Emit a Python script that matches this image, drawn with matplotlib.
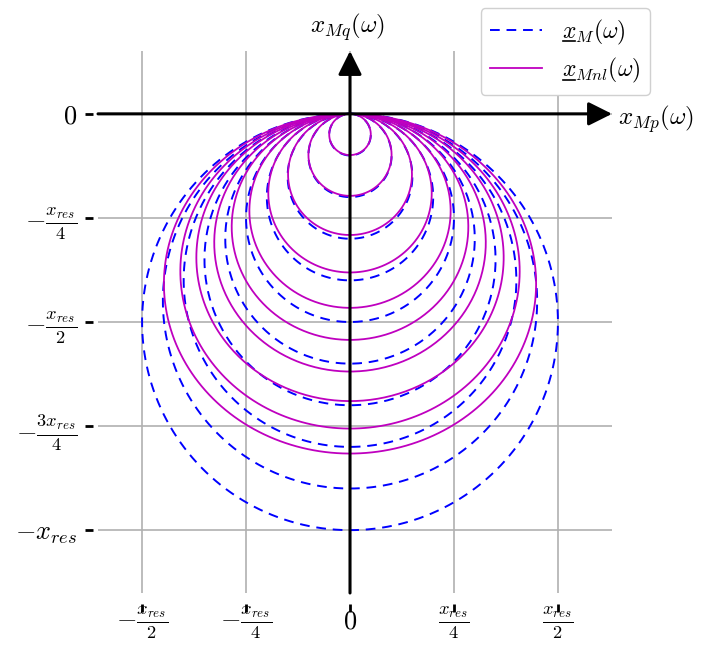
import numpy as np
import matplotlib
matplotlib.use("Agg")
import matplotlib.pyplot as plt
from matplotlib.lines import Line2D

plt.rcParams['mathtext.fontset'] = 'cm'
plt.rcParams['font.family'] = ['DejaVu Serif']

# ---- data (in units of x_res) ----
blue_diameters = [0.1, 0.2, 0.3, 0.4, 0.5, 0.6, 0.7, 0.8, 0.9, 1.0]
mag_widths = [0.100, 0.200, 0.298, 0.393, 0.484, 0.569, 0.653, 0.739, 0.816, 0.895]
mag_depths = [0.099, 0.197, 0.291, 0.381, 0.466, 0.543, 0.619, 0.690, 0.756, 0.816]
xticks = [-0.5, -0.25, 0.0, 0.25, 0.5]
xticklabels = [r'$-\frac{x_{res}}{2}$', r'$-\frac{x_{res}}{4}$', r'$0$',
               r'$\frac{x_{res}}{4}$', r'$\frac{x_{res}}{2}$']
yticks = [0.0, -0.25, -0.5, -0.75, -1.0]
yticklabels = [r'$0$', r'$-\frac{x_{res}}{4}$', r'$-\frac{x_{res}}{2}$',
               r'$-\frac{3x_{res}}{4}$', r'$-x_{res}$']
lab_b = r'$x_M(\omega)$'
lab_m = r'$x_{Mnl}(\omega)$'

fig = plt.figure(figsize=(7.02, 6.47), dpi=100)
ax = fig.add_axes([98/702, 1-593/647, 514/702, 542/647])

t = np.linspace(0, 2*np.pi, 400)
for i, d in enumerate(blue_diameters):
    ax.plot(d/2*np.sin(t), -d/2 + d/2*np.cos(t), color='#0000ff', lw=1.4,
            linestyle=(0, (5, 3.5)),
            label=lab_b if i == 0 else None, zorder=2)
for i, (w, h) in enumerate(zip(mag_widths, mag_depths)):
    ax.plot(w/2*np.sin(t), -h/2 + h/2*np.cos(t), '-', color='#bf00bf', lw=1.3,
            label=lab_m if i == 0 else None, zorder=3)

ax.set_xlim(-0.606, 0.630)
ax.set_ylim(-1.151, 0.151)

for s in ax.spines.values():
    s.set_visible(False)
ax.spines['left'].set_position(('outward', 3.6))
ax.spines['bottom'].set_position(('outward', 8.0))

ax.set_xticks(xticks)
ax.set_xticklabels(xticklabels, fontsize=19)
ax.set_yticks(yticks)
ax.set_yticklabels(yticklabels, fontsize=19)
ax.tick_params(axis='both', length=5.8, width=2.0, color='black')
ax.tick_params(axis='y', pad=5.5)
ax.tick_params(axis='x', pad=11.5)
for lbl in ax.get_xticklabels():
    lbl.set_va('baseline')

ax.grid(True, color='#b0b0b0', lw=1.2, zorder=0)
ax.set_axisbelow(True)

# axis arrows
arrowprops = dict(arrowstyle='-|>,head_length=0.8,head_width=0.4', mutation_scale=18,
                  lw=2.2, color='black', shrinkA=0, shrinkB=0)
ax.annotate('', xy=(1, 0), xycoords=('axes fraction', 'data'),
            xytext=(0, 0), textcoords=('axes fraction', 'data'),
            arrowprops=arrowprops, zorder=5)
ax.annotate('', xy=(0, 1), xycoords=('data', 'axes fraction'),
            xytext=(0, 0), textcoords=('data', 'axes fraction'),
            arrowprops=arrowprops, zorder=5)

fig.text(618/702, 1-114/647, r'$x_{Mp}(\omega)$', fontsize=18, ha='left', va='center_baseline')
fig.text(348/702, 1-22/647, r'$x_{Mq}(\omega)$', fontsize=18, ha='center', va='center_baseline')

leg = ax.legend(loc='upper right', bbox_to_anchor=(650/702, 1-8/647),
                bbox_transform=fig.transFigure, borderaxespad=0, fontsize=17,
                handlelength=2.2, handletextpad=0.85, labelspacing=0.4,
                borderpad=0.4, framealpha=1, edgecolor='#d0d0d0', fancybox=True)

# manual underline of the "x" in the legend labels
fig.canvas.draw()
renderer = fig.canvas.get_renderer()
probe = fig.text(0, 0, r'$x$', fontsize=17)
xw = probe.get_window_extent(renderer).width
probe.remove()
for txt in leg.get_texts():
    bb = txt.get_window_extent(renderer)
    bx, by = txt.get_transform().transform(txt.get_position())
    x0 = bb.x0 + 1
    y_ul = by - 3.5
    fig.add_artist(Line2D([x0, x0 + xw - 2], [y_ul, y_ul], transform=None,
                          color='black', lw=1.2, zorder=10))

fig.savefig('out.png', dpi=100)
